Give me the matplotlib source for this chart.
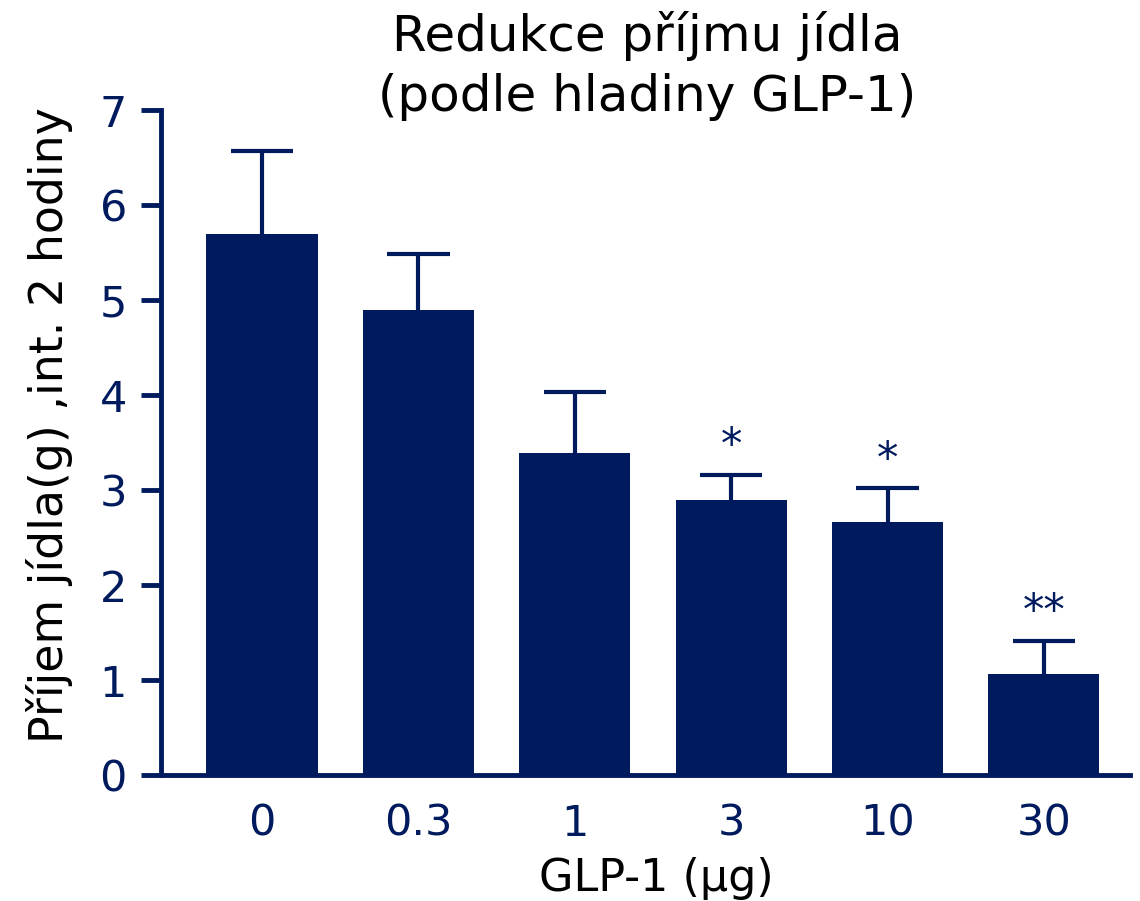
import matplotlib
matplotlib.use("Agg")
import matplotlib.pyplot as plt

# values
doses = ["0", "0.3", "1", "3", "10", "30"]
intake = [5.70, 4.89, 3.39, 2.89, 2.66, 1.06]
err_up = [0.87, 0.59, 0.64, 0.27, 0.36, 0.35]
signif = ["", "", "", "*", "*", "**"]

navy = "#001a5e"
plt.rcParams['font.family'] = ['DejaVu Sans']

fig = plt.figure(figsize=(11.4, 9.01), dpi=100)
ax = fig.add_axes([0.1412, 0.1398, 0.85, 0.7381])

x = list(range(len(doses)))
tops = [h + e for h, e in zip(intake, err_up)]
ax.bar(x, intake, width=0.71, color=navy, zorder=2)
# upper error bars only
ax.vlines(x, intake, tops, color=navy, linewidth=3, zorder=1)
ax.hlines(tops, [xi - 0.2 for xi in x], [xi + 0.2 for xi in x], color=navy, linewidth=3, zorder=1)

for xi, t, s in zip(x, tops, signif):
    if s:
        ax.text(xi, t + 0.08, s, ha='center', va='bottom', fontsize=31, color=navy)

ax.set_xlim(-0.646, 5.55)
ax.set_ylim(0, 7)
ax.set_xticks(x)
ax.set_xticklabels(doses)
ax.set_yticks(range(0, 8))

for side in ['top', 'right']:
    ax.spines[side].set_visible(False)
for side in ['left', 'bottom']:
    ax.spines[side].set_color(navy)
    ax.spines[side].set_linewidth(3.5)

ax.tick_params(axis='y', direction='out', length=14.5, width=3.5, color=navy,
               labelcolor=navy, labelsize=31, pad=10)
ax.tick_params(axis='x', length=0, labelcolor=navy, labelsize=31, pad=20)

ax.set_xlabel("GLP-1 (μg)", fontsize=32, labelpad=9, x=0.511)
ax.set_ylabel("Příjem jídla(g) ,int. 2 hodiny", fontsize=33, labelpad=19, y=0.526)
# title placed in figure coords so the "7" tick label does not push it up
fig.text(0.5675, 0.9267, "Redukce příjmu jídla\n(podle hladiny GLP-1)", fontsize=36,
         ha='center', va='center', multialignment='center', linespacing=1.33)

fig.savefig("out.png", dpi=100)
